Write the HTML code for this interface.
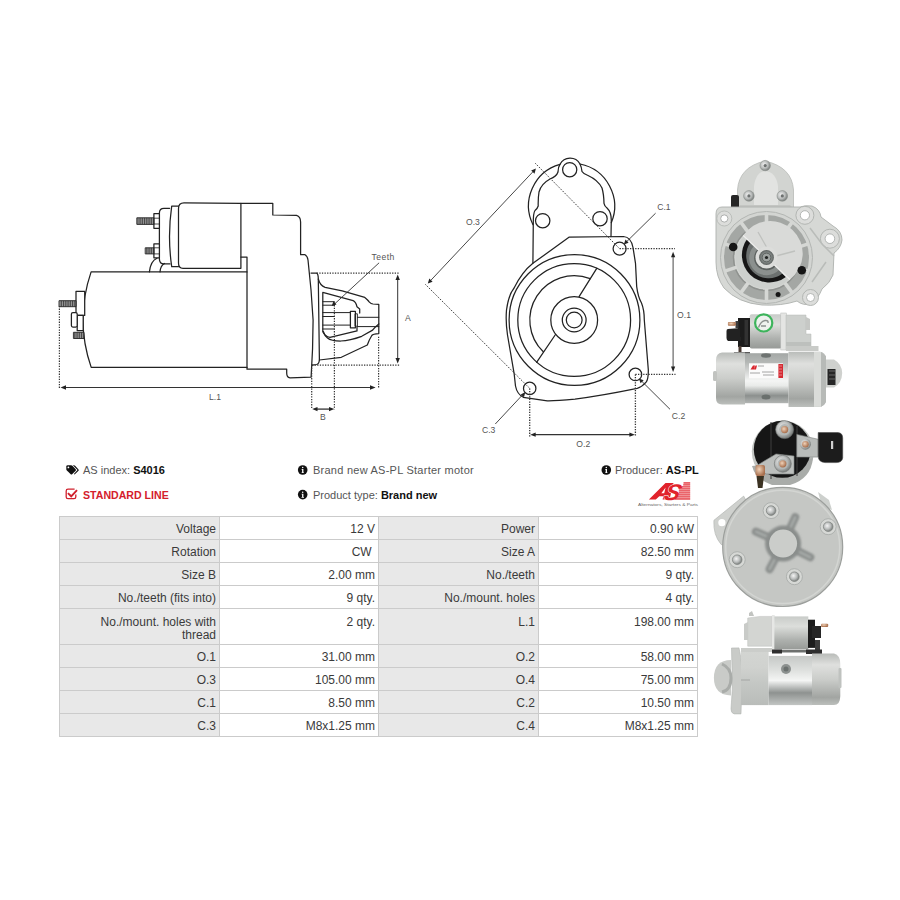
<!DOCTYPE html>
<html><head><meta charset="utf-8">
<style>
html,body{margin:0;padding:0;background:#fff;}
body{width:900px;height:900px;position:relative;overflow:hidden;font-family:"Liberation Sans",sans-serif;color:#333;}
.abs{position:absolute;}
#tbl{position:absolute;left:59px;top:516px;border-collapse:collapse;table-layout:fixed;font-size:12px;color:#3a3a3a;}
#tbl td{border:1px solid #cbcbcb;padding:6px 3px 0 4px;text-align:right;height:16px;line-height:13px;vertical-align:top;}
#tbl td.l{background:#e8e8e8;}
#tbl td.v{background:#fff;}
#tbl tr.tall td{height:28px;padding-top:7px;}
.hd{position:absolute;font-size:11px;color:#555;white-space:nowrap;line-height:13px;}
.hd b{color:#111;}
.red{color:#d4202c;font-weight:bold;}
</style></head><body>

<svg class="abs" style="left:0;top:0" width="900" height="900" viewBox="0 0 900 900" id="draw">
<defs>
<pattern id="thr" width="1.8" height="20" patternUnits="userSpaceOnUse"><rect width="1.8" height="20" fill="#9a9a9a"/><rect width="0.8" height="20" fill="#3a3a3a"/></pattern>
</defs>
<g fill="none" stroke="#222" stroke-width="1.25" stroke-linejoin="round" stroke-linecap="round">
<!-- motor body -->
<path d="M247,271.9 L91.1,271.9 Q74.8,320 91.2,367.4 L247,367.4"/>
<!-- drive housing -->
<path d="M240.9,203.3 L272.8,203.3 L272.8,215 L296.5,215.3 Q300.6,216.5 300.6,222 L300.6,254.7 L305,254.7 Q307.5,256 308,260 Q311.5,290 313.1,320 Q313,350 311.1,377.2 L290,377.8 Q286.7,377.5 286.7,373 L286.7,369.2 L247,369.2 L247,257 L240.9,257"/>
<!-- solenoid -->
<path d="M240.9,203.3 L240.9,268.3 L183,268.3 Q178.5,268.3 178.5,263 L178.5,208.5 Q178.5,202.8 184,202.8 L240.9,203.3"/>
<path d="M178.5,206.1 L171.7,206.1 Q167.3,236.4 171.7,266.7 L178.5,266.7"/>
<path d="M169.6,208.3 L164,208.3 Q159.4,208.3 159.4,213 L159.4,259 Q159.4,263.9 164,263.9 L170,263.9"/>
<path d="M149.4,271.9 Q150.5,261 157,258.2"/>
<path d="M160,271.9 Q160.5,265.5 164.5,263.5"/>
<g fill="#fff">
<rect x="153.9" y="213.7" width="5.5" height="14.6"/>
<rect x="153.9" y="243.9" width="5.5" height="13.9"/>
</g>
<path d="M153.9,218.2 L159.4,218.2 M153.9,224 L159.4,224 M153.9,247.8 L159.4,247.8 M153.9,253.9 L159.4,253.9" stroke-width="0.8"/>
<rect x="137.2" y="217.8" width="16.7" height="6.6" fill="url(#thr)" stroke-width="0.9"/>
<rect x="145.6" y="247.8" width="8.3" height="6.1" fill="url(#thr)" stroke-width="0.9"/>
<!-- rear studs -->
<g fill="#fff">
<rect x="76" y="291.3" width="8.7" height="24.1"/>
<rect x="77.2" y="315.4" width="6" height="15.2"/>
<rect x="71.4" y="312.5" width="5.8" height="14.5" rx="1.5"/>
</g>
<rect x="59.4" y="300.7" width="16.6" height="6" fill="url(#thr)" stroke-width="0.9"/>
<rect x="73.8" y="332.3" width="10.2" height="6.2" fill="url(#thr)" stroke-width="0.9"/>
<!-- nose flange -->
<path d="M311,273.1 L316.7,273.1 Q318.3,274 318.3,279 L319.4,360 Q319,364 316.7,364.5 L312,365.1"/>
<!-- nose outer -->
<path d="M318.3,279 Q320,285.5 325.1,287.3 L342.2,290.8 L364.8,297.4 Q368,300 369.4,302.1 Q371,303.7 373,304 L378.8,304.4 L378.8,333.6 Q373,334 371.8,335.5 Q369,340 367.3,345 L341.3,357.3 L319.4,360"/>
<path d="M378.8,323.9 Q375,327 372.6,330.1 L361.7,336.3 Q350,340.5 340.7,341 Q331,341 327.5,338 Q324.5,335.5 323.3,331.5"/>
<path d="M359.7,313 L359.7,309.1 L357,306.8 Q356,302 353.1,300.6 L322.8,292.4 L322.8,331.7 Q325,336.5 330,337.3 L357,330.9 L357,327"/>
<path d="M322.8,301.7 L334.4,301.7 M322.8,305.2 L334.4,305.2 M322.8,312.6 L350.4,312.6 M322.8,316.5 L334.4,316.5 M322.8,325.1 L350.4,325.1 M322.8,329 L334.4,329 M357.4,317.3 L378.8,317.3 M357.4,326.6 L378.8,326.6" stroke-width="1"/>
<rect x="350.4" y="311.4" width="5" height="16.4" fill="#fff"/>
<rect x="355.4" y="313.8" width="2" height="12.4" stroke-width="0.9"/>
</g>
<!-- dimension lines -->
<g fill="none" stroke="#333" stroke-width="1.2" stroke-dasharray="1.3 1.3">
<path d="M59.4,306 L59.4,388.5"/>
<path d="M378.6,336.7 L378.6,388.7"/>
<path d="M316.7,273.1 L399,273.1"/>
<path d="M312,365.1 L400,365.1"/>
<path d="M311.7,365.1 L311.7,409.3"/>
<path d="M334.4,302.5 L334.4,409.3"/>
</g>
<g fill="none" stroke="#333" stroke-width="1">
<path d="M63,387.5 L373,387.5"/>
<path d="M397.7,278 L397.7,360"/>
<path d="M315,409.1 L331.5,409.1" stroke-width="1.3"/>
<path d="M379.1,262.8 L334,304.5" stroke-width="0.9"/>
</g>
<g fill="#222" stroke="none">
<path d="M60.5,387.5 L66,385.3 L66,389.7Z"/>
<path d="M375.6,387.5 L370,385.3 L370,389.7Z"/>
<path d="M397.7,274.5 L395.5,280 L399.9,280Z"/>
<path d="M397.7,363.5 L395.5,358 L399.9,358Z"/>
<path d="M312.2,409.1 L317.5,407 L317.5,411.2Z"/>
<path d="M334.3,409.1 L329,407 L329,411.2Z"/>
<path d="M331.7,306 L333.5,301.2 L336.5,304.5Z"/>
</g>
<g font-family="Liberation Sans" font-size="8.6" fill="#555">
<text x="371.5" y="260" letter-spacing="0.45">Teeth</text>
<text x="407.8" y="321.1" text-anchor="middle">A</text>
<text x="215" y="399.7" text-anchor="middle">L.1</text>
<text x="322.9" y="419.7" text-anchor="middle">B</text>
</g>
<g fill="none" stroke="#222" stroke-width="1.25" stroke-linejoin="round" stroke-linecap="round">
<path d="M533,224.7 A43,43 0 0 1 560,164.3 A11.4,11.4 0 0 1 580,164 A43,43 0 0 1 611.3,222.7"/>
<path d="M560,164.3 Q558,167 558,172 Q556.5,176.5 550,179 Q541,184 539,192 Q538,198 538.2,206 Q537.5,208.5 535,210.5 Q533.3,213 533.3,222 L532.9,263.3"/>
<path d="M580,164 Q581.5,167 582,171.5 Q583.5,174 588,175.5 Q598,180 602,188 Q603.8,194 604,203.3 Q604.5,206 607,208 Q611.3,212 611.3,220 L611,236.6"/>
<circle cx="542.7" cy="220.7" r="7.2"/>
<circle cx="600" cy="218.7" r="7.2"/>
<circle cx="569.7" cy="169.7" r="7.1"/>
<!-- flange -->
<path d="M532.9,263.3 L569.3,237.1 L623.5,236.5 Q631,237 633,247.5 L635.5,263.3 L636.7,286.6 Q638,297 641.5,303 Q644.3,310 644.3,320 L648.3,369.8 Q648.5,379 646.1,382.2 Q642,387 637.2,388.4 Q600,396 575,399.1 Q555,401 547.3,400.8 L523.3,397.3 Q517,394 515.5,386 L514.1,373.3 L507.5,335 Q505.5,322 506.5,310 Q508.5,295 514.1,288 Q522,272 532.9,263.3"/>
<circle cx="619.6" cy="248.7" r="6.5"/>
<circle cx="635.4" cy="374.4" r="6.3"/>
<circle cx="529.7" cy="388.4" r="6.2"/>
<!-- circles -->
<circle cx="574.5" cy="320" r="65.4"/>
<circle cx="574.2" cy="320" r="56.4"/>
<circle cx="574.2" cy="320" r="23.4"/>
<circle cx="574.2" cy="320" r="11.9"/>
<circle cx="574.2" cy="320" r="7.9"/>
<path d="M590.2,278.7 A44.3,44.3 0 0 0 543.3,351.8"/>
<path d="M596.9,268.2 L579.1,296.7 M555.5,334.5 L536.6,362.3"/>
</g>
<g fill="none" stroke="#333" stroke-width="1" stroke-dasharray="1.3 1.3">
<path d="M535.3,163.3 L619.6,248.7"/>
<path d="M425.4,284.4 L529.7,388.4"/>
<path d="M619.6,248.7 L675,248.7" stroke-width="1.3"/>
<path d="M635.4,374.4 L675.5,374.4" stroke-width="1.3"/>
<path d="M529.7,388.4 L529.7,436.5" stroke-width="1.3"/>
<path d="M635.4,374.4 L635.4,436.5" stroke-width="1.3"/>
</g>
<g fill="none" stroke="#333" stroke-width="0.9">
<path d="M430,281.2 L533.8,170.8"/>
<path d="M655.6,213.2 L625.5,242.8"/>
<path d="M673.1,255 L673.1,369"/>
<path d="M641,380.5 L670,409.3"/>
<path d="M523.5,393.8 L495.3,424"/>
<path d="M533,434.7 L632,434.7" stroke-width="1.2"/>
</g>
<g fill="#222" stroke="none">
<path d="M427.8,283.6 L429.3,278.6 L432.6,281.7Z"/>
<path d="M535.9,168.6 L531.2,170.6 L534.5,173.7Z"/>
<path d="M623.8,244.4 L625.5,239.6 L628.6,242.8Z"/>
<path d="M673.1,251.7 L671,257.2 L675.2,257.2Z"/>
<path d="M673.1,372 L671,366.5 L675.2,366.5Z"/>
<path d="M638.8,378.5 L643.7,380.2 L640.6,383.3Z"/>
<path d="M525.3,392 L520.8,394.6 L524,397.3Z" transform="rotate(0)"/>
<path d="M530.2,434.7 L535.7,432.6 L535.7,436.8Z"/>
<path d="M634.9,434.7 L629.4,432.6 L629.4,436.8Z"/>
</g>
<g font-family="Liberation Sans" font-size="8.6" fill="#555">
<text x="472.9" y="224.5" text-anchor="middle">O.3</text>
<text x="663.9" y="209.7" text-anchor="middle">C.1</text>
<text x="684" y="317.8" text-anchor="middle">O.1</text>
<text x="678.5" y="419.2" text-anchor="middle">C.2</text>
<text x="488.7" y="432.5" text-anchor="middle">C.3</text>
<text x="583.3" y="447.2" text-anchor="middle">O.2</text>
</g>

<defs>
<linearGradient id="cylV" x1="0" y1="0" x2="0" y2="1">
<stop offset="0" stop-color="#b9bcb9"/><stop offset="0.22" stop-color="#dfe0de"/><stop offset="0.5" stop-color="#cbcdca"/><stop offset="0.85" stop-color="#a2a5a2"/><stop offset="1" stop-color="#bcbfbc"/>
</linearGradient>
<linearGradient id="canV" x1="0" y1="0" x2="0" y2="1">
<stop offset="0" stop-color="#a4a8a6"/><stop offset="0.18" stop-color="#b4b7b5"/><stop offset="0.55" stop-color="#f4f5f4"/><stop offset="0.65" stop-color="#e9ebe9"/><stop offset="0.85" stop-color="#8c908e"/><stop offset="1" stop-color="#b2b5b3"/>
</linearGradient>
<linearGradient id="solV" x1="0" y1="0" x2="0" y2="1">
<stop offset="0" stop-color="#c9ccc9"/><stop offset="0.3" stop-color="#dcdedb"/><stop offset="0.7" stop-color="#afb2af"/><stop offset="1" stop-color="#979a97"/>
</linearGradient>
<linearGradient id="can4" x1="0" y1="0" x2="0" y2="1">
<stop offset="0" stop-color="#c5c8c6"/><stop offset="0.3" stop-color="#dfe1df"/><stop offset="0.5" stop-color="#f4f5f4"/><stop offset="0.75" stop-color="#8e9290"/><stop offset="1" stop-color="#c2c5c3"/>
</linearGradient>
<filter id="soft" x="-5%" y="-5%" width="110%" height="110%"><feGaussianBlur stdDeviation="0.45"/></filter>
<filter id="soft2" x="-20%" y="-20%" width="140%" height="140%"><feGaussianBlur stdDeviation="1.1"/></filter>
<linearGradient id="house4" x1="0" y1="0" x2="0" y2="1"><stop offset="0" stop-color="#d3d5d2"/><stop offset="0.3" stop-color="#d0d2cf"/><stop offset="0.6" stop-color="#c4c7c4"/><stop offset="1" stop-color="#b9bcb9"/></linearGradient>
<radialGradient id="bolt" cx="0.4" cy="0.4" r="0.6">
<stop offset="0" stop-color="#f4f4f4"/><stop offset="0.6" stop-color="#b9bcbb"/><stop offset="1" stop-color="#7c807e"/>
</radialGradient>
<radialGradient id="copper" cx="0.4" cy="0.4" r="0.6">
<stop offset="0" stop-color="#f0d2b8"/><stop offset="1" stop-color="#a86f4d"/>
</radialGradient>
<radialGradient id="pin1" cx="0.5" cy="0.5" r="0.5">
<stop offset="0" stop-color="#b8bdbb"/><stop offset="0.7" stop-color="#7f8583"/><stop offset="1" stop-color="#5a5f5d"/>
</radialGradient>
</defs>

<!-- ============ PHOTO 1 : front view ============ -->
<g id="p1" filter="url(#soft)">
<path d="M737.5,208 L737.5,190 Q739,167 765,161 Q792,167 793.5,190 L793.5,208 Z" fill="#d2d4d1" stroke="#b9bbb8" stroke-width="0.8"/>
<path d="M754,208 L754,186 Q756,172 765,171 Q776,172 778,186 L778,208 Z" fill="#e2e3e1"/>
<path d="M740,205 L790,205 L794,209 L737,209 Z" fill="#c3c5c2"/>
<circle cx="765.2" cy="165.6" r="5.2" fill="url(#bolt)" stroke="#8a8e8c" stroke-width="0.6"/>
<circle cx="765.2" cy="165.6" r="1.6" fill="#6d7170"/>
<circle cx="748.9" cy="195.9" r="5.3" fill="url(#bolt)" stroke="#8a8e8c" stroke-width="0.6"/>
<circle cx="748.9" cy="195.9" r="1.6" fill="#6d7170"/>
<circle cx="782.3" cy="195.9" r="5.3" fill="url(#bolt)" stroke="#8a8e8c" stroke-width="0.6"/>
<circle cx="782.3" cy="195.9" r="1.6" fill="#6d7170"/>
<rect x="731" y="195" width="8" height="13.5" rx="2" fill="#262626"/>
<!-- flange -->
<path d="M716,214 Q716,207 722,207 L738,207 L793,207 L800,207 Q805,205 812,206 Q820,209 821,217 L833,226 Q842,231 842,240 Q841,248 834,253 L833,275 Q830,283 822,289 Q818,299 811,304 Q803,306 797,301 Q782,306 762,305 Q738,303 724,288 Q716,277 716,262 Z" fill="#d6d8d5" stroke="#aeb1ae" stroke-width="0.9"/>
<circle cx="724.3" cy="218.5" r="7.5" fill="#dcdddb" stroke="#b3b6b3" stroke-width="0.8"/><circle cx="724.3" cy="218.5" r="3.6" fill="#fff" stroke="#9ea19f" stroke-width="0.8"/>
<circle cx="804.9" cy="215.3" r="9" fill="#dcdddb" stroke="#aeb1ae" stroke-width="0.9"/><circle cx="804.9" cy="215.3" r="4.6" fill="#fff" stroke="#a5a8a6" stroke-width="0.8"/>
<circle cx="829.9" cy="238.7" r="9.5" fill="#dcdddb" stroke="#aeb1ae" stroke-width="0.9"/><circle cx="829.9" cy="238.7" r="4.8" fill="#fff" stroke="#a5a8a6" stroke-width="0.8"/>
<circle cx="810.5" cy="297.5" r="8" fill="#dcdddb" stroke="#aeb1ae" stroke-width="0.9"/><circle cx="810.5" cy="297.5" r="4" fill="#fff" stroke="#a5a8a6" stroke-width="0.8"/>
<path d="M810,228 L822,244 L834,256 M812,282 L826,262 M728,232 L738,226" stroke="#b9bcb9" stroke-width="1.5" fill="none"/>
<!-- face -->
<circle cx="766.5" cy="257.5" r="46" fill="#d3d5d2" stroke="#b3b6b3" stroke-width="1"/>
<circle cx="766.5" cy="257.5" r="37.5" fill="none" stroke="#a4a7a4" stroke-width="10"/>
<circle cx="766.5" cy="257.5" r="33" fill="none" stroke="#8f928f" stroke-width="1.5"/>
<g stroke="#d5d7d4" stroke-width="3.6" fill="none"><path d="M766.5,226.5 L766.5,213.5"/><path d="M784.7,232.4 L792.4,221.9"/><path d="M796.0,247.9 L808.3,243.9"/><path d="M796.0,267.1 L808.3,271.1"/><path d="M784.7,282.6 L792.4,293.1"/><path d="M766.5,288.5 L766.5,301.5"/><path d="M748.3,282.6 L740.6,293.1"/><path d="M737.0,267.1 L724.7,271.1"/><path d="M737.0,247.9 L724.7,243.9"/><path d="M748.3,232.4 L740.6,221.9"/></g>
<circle cx="766.5" cy="257.5" r="31" fill="#cdd0cd"/>
<!-- dark opening lower-left -->
<path d="M747.1,238.9 A27.5,27.5 0 0 0 785.9,277 Z" fill="#161717"/>
<path d="M750.5,242.5 A22.5,22.5 0 0 0 782.5,273.5 Z" fill="#6c716f"/>
<path d="M754,246 A17,17 0 0 0 779,270 Z" fill="#8b908e"/>
<path d="M757.5,249.5 A11.5,11.5 0 0 0 775.5,266.5 Z" fill="#5b605e"/>
<!-- lid -->
<path d="M743.2,235.5 L789.8,279.5 A32.5,32.5 0 1 0 743.2,235.5 Z" fill="#d9dad8"/>
<path d="M743.2,235.5 L789.8,279.5" stroke="#eeeeed" stroke-width="1.3"/>
<path d="M766.5,247 L758,232 M776,256 L795,251" stroke="#bfc1be" stroke-width="1.3" fill="none"/>
<circle cx="766.5" cy="257.5" r="11" fill="#dcdddb"/>
<circle cx="766.5" cy="257.5" r="7.4" fill="url(#pin1)"/>
<circle cx="766.5" cy="257.5" r="4.4" fill="#9da2a0" stroke="#545957" stroke-width="0.9"/>
<circle cx="766.5" cy="257.5" r="1.6" fill="#1f2120"/>
<circle cx="733.2" cy="247" r="4.3" fill="#151515"/>
<circle cx="801.8" cy="270.2" r="4.3" fill="#151515"/>
<circle cx="778.1" cy="294.5" r="2.5" fill="#151515"/>
</g>

<!-- ============ PHOTO 2 : side view ============ -->
<g id="p2" filter="url(#soft)">
<!-- solenoid -->
<rect x="749.7" y="314.3" width="32" height="34.2" rx="2" fill="url(#solV)"/>
<rect x="780.8" y="313" width="5.5" height="37" fill="#e4e5e3" stroke="#b8bbb8" stroke-width="0.5"/>
<path d="M786,315 L806,315 L806,334 L811,334 L811,350 L786,350 Z" fill="#cdd0cd" stroke="#b5b8b5" stroke-width="0.5"/><path d="M786,342 L811,342 L811,350 L786,350Z" fill="#bdc0bd"/>
<path d="M806,317 L810,319 L810,330 L806,330" fill="#c6c8c5"/>
<path d="M786,346 L818.5,346 L818.5,351 L786,351Z" fill="#c9cbc8"/>
<circle cx="763.7" cy="322.9" r="8.6" fill="#eef2ee" stroke="#3db45b" stroke-width="2.2"/>
<path d="M758.5,327.5 Q761,321 765,320.5 Q768.5,320 768,323 M761,326 L766,326" stroke="#8c918e" stroke-width="1.4" fill="none"/>
<!-- black cap -->
<path d="M738,318 L750,318 L750,347 L738,347 Z" fill="#1c1c1c"/>
<path d="M728,329 L740,328 L741,341 L728,341 Q726.5,340 726.5,338 L726.5,331 Q726.5,329 728,329Z" fill="#232323"/>
<rect x="744.5" y="320" width="3.5" height="25" fill="#333"/>
<rect x="735.5" y="321" width="3" height="7" fill="#3a3a3a"/>
<rect x="727.9" y="322" width="8" height="3.8" rx="1" fill="url(#copper)"/>
<rect x="738.5" y="346" width="3" height="7" fill="#4a3b30"/>
<path d="M734,352 L750,352 L750,354 L734,354Z" fill="#5a5a5a"/>
<!-- main body -->
<path d="M745,352.4 L722,352.4 Q716,353 716,360 L716,398 Q716,404.5 722,404.5 L745,404.5 Z" fill="url(#cylV)"/>
<rect x="713" y="371" width="4" height="10" rx="1.5" fill="#c1c3c0"/>
<rect x="745" y="353.2" width="43.5" height="50" fill="url(#canV)"/>
<rect x="749" y="363.3" width="34" height="15" fill="#fbfbfb"/>
<path d="M750.5,369.5 L753,365.5 L755,365.5 L754,369.5 Z M754,369.5 L755.5,365.5 L757,365.5 L756,369.5Z" fill="#d9252f"/>
<path d="M758,366 L764,366 M750,373 L760,373 M762,372 L774,372 M763,375 L774,375" stroke="#9a9a9a" stroke-width="0.9"/>
<rect x="778.4" y="364" width="4.6" height="14" fill="#d52a33"/>
<path d="M779,366 L782,366 M779,369 L782,369 M779,372 L782,372 M779,375 L782,375" stroke="#f5b9bc" stroke-width="0.6"/>
<ellipse cx="766" cy="355.5" rx="5" ry="2.2" fill="#6e7371"/>
<ellipse cx="766" cy="397" rx="4.5" ry="2.5" fill="#6a6f6d"/>
<path d="M788.5,351.7 L820,351.7 Q826,352 826,360 L826,400 Q825.9,406.9 818,406.9 L788.5,406.9 Z" fill="url(#cylV)"/>
<path d="M814,352 L821,352 L821,406.9 L814,406.9Z" fill="#dadcd9"/><path d="M821,352 L826,356 L826,402 L821,406.9Z" fill="#b7bab7"/>
<path d="M826,359.4 L834,359.4 Q842,364 842.2,373 Q842,383 834,387.4 L826,387.4 Z" fill="#cfd1ce"/>
<rect x="827.5" y="369" width="8" height="16" fill="#262626"/><path d="M829,371 L835,371 M829,375 L835,375 M829,379 L835,379" stroke="#777" stroke-width="0.8"/>
</g>

<!-- ============ PHOTO 3 : rear view ============ -->
<g id="p3" filter="url(#soft)">
<!-- solenoid -->
<circle cx="782.8" cy="451.6" r="31" fill="#c3c6c3"/>
<path d="M813,458 Q811,479 790,485 L772,485 Q755,479 752,466" fill="#a9aca9"/>
<circle cx="782.3" cy="449.3" r="28.5" fill="#191919"/>
<path d="M771,422 L771,479 M797,426 L797,476" stroke="#3a3a3a" stroke-width="1"/>
<circle cx="784.6" cy="429.6" r="9" fill="url(#bolt)" stroke="#6e7270" stroke-width="0.6"/>
<circle cx="784.6" cy="429.6" r="5.5" fill="#b4b8b6"/>
<circle cx="784.6" cy="429.6" r="3.6" fill="url(#copper)"/>
<path d="M796.8,434.4 L818.2,439.3 L818.2,457.1 L796.8,457 Z" fill="#b9bcba" stroke="#7e8280" stroke-width="0.6"/>
<circle cx="805.4" cy="444.2" r="5.5" fill="url(#bolt)"/>
<circle cx="805.4" cy="444.2" r="3.3" fill="url(#copper)"/>
<path d="M818.2,432.6 L838,432.6 Q842.7,433 842.7,438 L842.7,458 Q842,462.6 836,462.6 L825,462.6 Q818.2,462 818.2,456 Z" fill="#1b1b1b" stroke="#4a4a4a" stroke-width="0.6"/>
<rect x="831" y="441" width="2.2" height="8" fill="#cfcfcf"/>
<path d="M756,466 L776,454 L794,456 L794,474 L766,474 Z" fill="#bcbfbd" stroke="#7e8280" stroke-width="0.6"/>
<circle cx="782.8" cy="463.8" r="8.5" fill="url(#bolt)" stroke="#6e7270" stroke-width="0.6"/>
<circle cx="782.8" cy="463.8" r="5.2" fill="#b4b8b6"/>
<circle cx="782.8" cy="463.8" r="3.6" fill="url(#copper)"/>
<rect x="755.5" y="465" width="9.5" height="11" rx="2" fill="url(#copper)"/>
<path d="M756.5,476 L764,476 L762.5,488 L758,488Z" fill="#3b3024"/>
<!-- ear -->
<path d="M713.9,520.3 L743.7,496.1 L752,512 L740,552 L721.1,544.4 Q713,535 713.9,520.3 Z" fill="#cfd1ce" stroke="#aeb1ae" stroke-width="0.6"/>
<circle cx="721.9" cy="522.7" r="3.6" fill="#fff"/>
<path d="M818,492 L829,500 L832,510 L822,506Z" fill="#cdd0cd"/>
<!-- disc -->
<ellipse cx="782.7" cy="546.9" rx="60" ry="59.6" fill="#c5c7c4" stroke="#9c9f9c" stroke-width="1.2"/>
<ellipse cx="782.7" cy="546.9" rx="57" ry="56.6" fill="none" stroke="#d3d5d2" stroke-width="1.5"/>
<g stroke="#8a8e8c" stroke-width="8" stroke-linecap="round" fill="none" filter="url(#soft2)">
<path d="M783.1,543.6 L795.2,517.2"/>
<path d="M783.1,543.6 L755.9,531.7"/>
<path d="M783.1,543.6 L810.3,557.3"/>
<path d="M783.1,543.6 L769.6,569.2"/>
</g>
<g stroke="#a9adab" stroke-width="2.5" stroke-linecap="round" fill="none" filter="url(#soft2)">
<path d="M783.1,543.6 L795.2,517.2"/>
<path d="M783.1,543.6 L755.9,531.7"/>
<path d="M783.1,543.6 L810.3,557.3"/>
<path d="M783.1,543.6 L769.6,569.2"/>
</g>
<circle cx="783.1" cy="543.6" r="18" fill="#8a8e8c" filter="url(#soft2)"/>
<circle cx="783.1" cy="543.6" r="14" fill="#cbcdca"/>
<g fill="#d6d8d5" stroke="#a5a8a6" stroke-width="0.8">
<circle cx="771.1" cy="510.6" r="8"/>
<circle cx="828.2" cy="526.7" r="8"/>
<circle cx="737.2" cy="559.7" r="8"/>
<circle cx="794.4" cy="576.7" r="8"/>
</g>
<g fill="url(#bolt)" stroke="#7b7f7d" stroke-width="0.7">
<circle cx="771.1" cy="510.6" r="4.8"/>
<circle cx="828.2" cy="526.7" r="4.8"/>
<circle cx="737.2" cy="559.7" r="4.8"/>
<circle cx="794.4" cy="576.7" r="4.8"/>
</g>
</g>

<!-- ============ PHOTO 4 : side view mirrored ============ -->
<g id="p4" filter="url(#soft)">
<path d="M747.7,618 L760,616.4 L772,616.4 L772,646.2 L747.7,646.2 Z" fill="#d3d5d2" stroke="#bcbfbc" stroke-width="0.5"/>
<path d="M744,624 L748,622 L748,640 L744,640Z" fill="#c9cbc8"/>
<path d="M749,613 L752,611 L754,616 L749,616Z" fill="#c2c4c1"/>
<rect x="771.9" y="615" width="2.8" height="35" fill="#e6e7e5"/>
<rect x="774.3" y="616.4" width="34" height="33.1" fill="url(#solV)"/>
<rect x="808" y="619.7" width="7" height="28.2" fill="#1c1c1c"/>
<rect x="812" y="626" width="9" height="12" fill="#262626"/>
<rect x="821" y="623.7" width="7.2" height="3.2" rx="1" fill="url(#copper)"/>
<rect x="815" y="640" width="5" height="10" fill="#3a3a3a"/>
<path d="M772,649.5 L782,649.5 L782,653.5 L772,653.5Z M806,649.5 L822,649.5 L822,654 L806,654Z" fill="#2e2e2e"/><path d="M782,650 L806,650 L806,652.5 L782,652.5Z" fill="#6d706e"/>
<path d="M731.5,648 L739,647.9 Q742,660 742,680 L741,713.9 L734,713.9 Q731,713 731,709 Q733,690 732,670 Z" fill="#c9cbc8" stroke="#b0b3b0" stroke-width="0.6"/>
<path d="M713.9,678 Q714,660 731,660 L731,695.4 Q714,695 713.9,678 Z" fill="#c9cbc8"/><path d="M722,664 Q731,668 731,678 Q731,690 722,692" fill="none" stroke="#a9aca9" stroke-width="3"/>
<rect x="741" y="651" width="27.6" height="54.1" fill="url(#house4)"/><path d="M741,680 L750,680" stroke="#a9aca9" stroke-width="1.2"/>
<path d="M741,648 L772,648 L772,652 L741,652Z" fill="#cbcdca"/>
<rect x="768.6" y="655.9" width="43.5" height="49.2" fill="url(#can4)"/>
<circle cx="786" cy="669" r="5" fill="#8c918f"/>
<circle cx="786" cy="669" r="2.5" fill="#6b706e"/>
<path d="M812,653.5 L834,653.5 Q840.3,655 840.3,664 L840.3,696 Q840,705.1 834,705.1 L812,705.1 Z" fill="url(#cylV)"/>
<rect x="838.5" y="668" width="3" height="20" rx="1" fill="#bfc2bf"/>
</g>

<!-- icons -->
<g id="icons">
<path d="M66.3,466.6 Q66.3,465.2 67.7,465.2 L71.2,465.2 Q71.9,465.2 72.4,465.7 L75.7,469.3 Q76.3,470 75.7,470.7 L72.1,474.3 Q71.4,474.9 70.7,474.3 L66.9,470.6 Q66.3,470 66.3,469.3 Z" fill="#111"/>
<circle cx="68.4" cy="467.4" r="0.9" fill="#fff"/>
<path d="M72.8,465.2 L74,465.2 Q74.6,465.2 75.1,465.7 L78.5,469.4 Q79.1,470 78.5,470.7 L74.6,474.6 L73.9,473.9 L77.5,470.1 L73.6,465.9 Z" fill="#111"/>
<path d="M74.6,489.2 L68,489.2 Q66.2,489.2 66.2,491 L66.2,497 Q66.2,498.7 68,498.7 L74,498.7 Q75.8,498.7 75.8,497 L75.8,494.5" fill="none" stroke="#d0202c" stroke-width="1.3"/>
<path d="M67.9,493.1 L71.2,496.3 L77,490.2" fill="none" stroke="#d0202c" stroke-width="1.9" stroke-linejoin="miter"/>
<g fill="#111">
<circle cx="302.7" cy="470" r="4.8"/>
<circle cx="302.7" cy="494.6" r="4.8"/>
<circle cx="606.3" cy="470" r="4.8"/>
</g>
<g fill="#fff">
<circle cx="302.7" cy="467.6" r="0.75"/><path d="M301.6,469.1 L303.4,469.1 L303.4,472.4 L304,472.4 L304,473.1 L301.5,473.1 L301.5,472.4 L302.1,472.4 L302.1,469.8 L301.6,469.8Z"/>
<circle cx="302.7" cy="492.2" r="0.75"/><path d="M301.6,493.7 L303.4,493.7 L303.4,497 L304,497 L304,497.7 L301.5,497.7 L301.5,497 L302.1,497 L302.1,494.4 L301.6,494.4Z"/>
<circle cx="606.3" cy="467.6" r="0.75"/><path d="M305.2,469.1 L307,469.1 L307,472.4 L307.6,472.4 L307.6,473.1 L305.1,473.1 L305.1,472.4 L305.7,472.4 L305.7,469.8 L305.2,469.8Z" transform="translate(300,0)"/>
</g>
<!-- AS logo -->
<g fill="#e1232b">
<path fill-rule="evenodd" d="M648.9,499.6 L665.5,483 L673.5,483 L669.5,499.6 L662.6,499.6 L663.4,496.3 L659.3,496.3 L655.8,499.6 Z M661.3,493.3 L664.2,493.3 L665.6,487.6 Z"/>
<text x="0" y="0" font-family="Liberation Sans" font-weight="bold" font-style="italic" font-size="22.5" stroke="#fff" stroke-width="0.9" paint-order="stroke" transform="translate(662.8,499.5) skewX(-18) scale(1.05,1)">S</text>
<rect x="683.5" y="482.3" width="6.7" height="1.3"/>
<rect x="683.2" y="484.3" width="7" height="1.2"/>
<rect x="682" y="486.3" width="8.2" height="1.2"/>
<rect x="678.8" y="488.3" width="11.4" height="1.2"/>
<rect x="678.8" y="490.3" width="11.4" height="1.2"/>
<rect x="679" y="492.3" width="11.2" height="1.2"/>
<rect x="678.5" y="494.3" width="11.7" height="1.2"/>
<rect x="676.8" y="496.3" width="13.4" height="1.2"/>
<rect x="674.5" y="498.3" width="15.7" height="1.3"/>
</g>
<text x="638" y="506.4" font-family="Liberation Sans" font-size="4.4" fill="#666" textLength="60" lengthAdjust="spacingAndGlyphs">Alternators, Starters &amp; Parts</text>
</g>

</svg>

<!-- header -->
<div class="hd" style="left:83px;top:464px;">AS index: <b>S4016</b></div>
<div class="hd red" style="left:83px;top:489px;font-size:10.6px;">STANDARD LINE</div>
<div class="hd" style="left:313px;top:464px;letter-spacing:0.25px;">Brand new AS-PL Starter motor</div>
<div class="hd" style="left:313px;top:489px;">Product type: <b>Brand new</b></div>
<div class="hd" style="left:615px;top:464px;">Producer: <b>AS-PL</b></div>

<table id="tbl">
<colgroup><col style="width:160px"><col style="width:159px"><col style="width:160px"><col style="width:159px"></colgroup>
<tr><td class="l">Voltage</td><td class="v">12 V</td><td class="l">Power</td><td class="v">0.90 kW</td></tr>
<tr><td class="l">Rotation</td><td class="v">CW&nbsp;</td><td class="l">Size A</td><td class="v">82.50 mm</td></tr>
<tr><td class="l">Size B</td><td class="v">2.00 mm</td><td class="l">No./teeth</td><td class="v">9 qty.</td></tr>
<tr><td class="l">No./teeth (fits into)</td><td class="v">9 qty.</td><td class="l">No./mount. holes</td><td class="v">4 qty.</td></tr>
<tr class="tall"><td class="l">No./mount. holes with thread</td><td class="v">2 qty.</td><td class="l">L.1</td><td class="v">198.00 mm</td></tr>
<tr><td class="l">O.1</td><td class="v">31.00 mm</td><td class="l">O.2</td><td class="v">58.00 mm</td></tr>
<tr><td class="l">O.3</td><td class="v">105.00 mm</td><td class="l">O.4</td><td class="v">75.00 mm</td></tr>
<tr><td class="l">C.1</td><td class="v">8.50 mm</td><td class="l">C.2</td><td class="v">10.50 mm</td></tr>
<tr><td class="l">C.3</td><td class="v">M8x1.25 mm</td><td class="l">C.4</td><td class="v">M8x1.25 mm</td></tr>
</table>

</body></html>
